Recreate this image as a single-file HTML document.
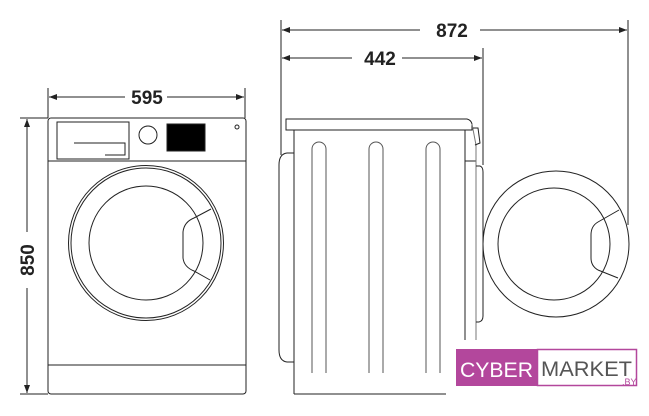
<!DOCTYPE html>
<html><head><style>
html,body{margin:0;padding:0;background:#fff;width:649px;height:416px;overflow:hidden}
svg{display:block}
text{font-family:"Liberation Sans",sans-serif;font-weight:bold}
</style></head><body>
<svg width="649" height="416" viewBox="0 0 649 416" xmlns="http://www.w3.org/2000/svg">
<defs>
<marker id="a" markerWidth="8" markerHeight="6" refX="8" refY="3" orient="auto-start-reverse" markerUnits="userSpaceOnUse">
<path d="M0,0 L8,3 L0,6 Z" fill="#222"/></marker>
</defs>
<g stroke="#222" stroke-width="1" fill="none">
<line x1="48" y1="88" x2="48" y2="118"/>
<line x1="245" y1="88" x2="245" y2="118"/>
<line x1="49" y1="97" x2="125" y2="97" marker-start="url(#a)"/>
<line x1="167" y1="97" x2="244" y2="97" marker-end="url(#a)"/>
<line x1="20" y1="118" x2="48" y2="118"/>
<line x1="20" y1="394" x2="48" y2="394"/>
<line x1="27" y1="119" x2="27" y2="232" marker-start="url(#a)"/>
<line x1="27" y1="288" x2="27" y2="393" marker-end="url(#a)"/>
<rect x="48" y="118" width="198" height="276" rx="3"/>
<line x1="48" y1="161" x2="246" y2="161"/>
<line x1="48" y1="365" x2="246" y2="365"/>
<rect x="57" y="122" width="72" height="37"/>
<path d="M74,143 H125 V155 H105"/>
<circle cx="148" cy="135" r="9"/>
<rect x="167" y="124" width="38" height="27" fill="#000"/>
<circle cx="237" cy="127" r="2"/>
<circle cx="146" cy="243" r="77.5"/>
<circle cx="146" cy="243" r="75"/>
<circle cx="146" cy="243" r="57"/>
<path d="M211,209 L194,218 Q184,222 183,232 L183,258 Q184,267 194,271 L210,280"/>
<line x1="281" y1="20" x2="281" y2="155"/>
<line x1="483" y1="48" x2="483" y2="165"/>
<line x1="628" y1="20" x2="628" y2="225"/>
<line x1="282" y1="30" x2="420" y2="30" marker-start="url(#a)"/>
<line x1="480" y1="30" x2="627" y2="30" marker-end="url(#a)"/>
<line x1="282" y1="58" x2="352" y2="58" marker-start="url(#a)"/>
<line x1="402" y1="58" x2="482" y2="58" marker-end="url(#a)"/>
<path d="M286,119 H467 Q471,120 472,124 V130 H286 Z"/>
<line x1="294" y1="130" x2="294" y2="394"/>
<line x1="294" y1="394" x2="446" y2="394"/>
<line x1="465" y1="130" x2="465" y2="340"/>
<line x1="465" y1="161" x2="476" y2="161"/>
<path d="M472,124 L476,145 L476,340" stroke="#777"/>
<path d="M473,128 H478 L480,143 L475,145"/>
<path d="M476,166 H480 Q483,167 483,172 V316 Q483,321 479,322 H476"/>
<path d="M294,153 H287 Q279,154 279,165 V350 Q279,361 287,362 H294"/>
<g stroke="#555">
<path d="M312,373 V149 A7,7 0 0 1 326,149 V373"/>
<path d="M369,373 V149 A7,7 0 0 1 383,149 V373"/>
<path d="M426,373 V149 A7,7 0 0 1 440,149 V373"/>
</g>
<circle cx="556" cy="244" r="73"/>
<circle cx="554" cy="244" r="56"/>
<path d="M619,210 L598,222 Q591,226 591,235 L591,258 Q591,266 598,270 L618,278"/>
</g>
<text x="147" y="104" font-size="19" text-anchor="middle" fill="#222">595</text>
<text transform="translate(34,260) rotate(-90)" font-size="19" text-anchor="middle" fill="#222">850</text>
<text x="452" y="37" font-size="19" text-anchor="middle" fill="#222">872</text>
<text x="380" y="65" font-size="19" text-anchor="middle" fill="#222">442</text>
<rect x="456" y="349" width="81" height="37" fill="#b3479c"/>
<rect x="537.5" y="349.5" width="99" height="36" fill="#fff" stroke="#b3479c" stroke-width="1.5"/>
<text x="460" y="377" font-size="21" fill="#fff" textLength="73" lengthAdjust="spacingAndGlyphs" style="font-weight:normal">CYBER</text>
<text x="541" y="376" font-size="21" fill="#555" textLength="91" lengthAdjust="spacingAndGlyphs" style="font-weight:normal">MARKET</text>
<text x="622" y="385" font-size="9" fill="#b3479c" style="font-weight:normal">.BY</text>
</svg>
</body></html>
